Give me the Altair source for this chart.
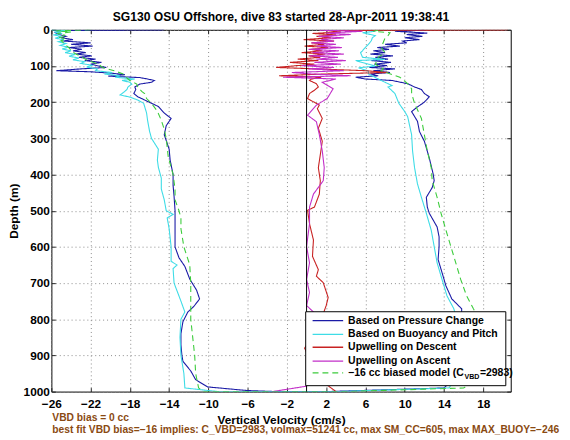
import altair as alt
import pandas as pd

TITLE = "SG130 OSU Offshore, dive 83 started 28-Apr-2011 19:38:41"
X_TITLE = "Vertical Velocity (cm/s)"
Y_TITLE = "Depth (m)"
NOTE_1 = "VBD bias = 0 cc"
NOTE_2 = "best fit VBD bias=\u221216 implies: C_VBD=2983, volmax=51241 cc, max SM_CC=605, max MAX_BUOY=\u2212246"

SERIES = [
    "Based on Pressure Change",
    "Based on Buoyancy and Pitch",
    "Upwelling on Descent",
    "Upwelling on Ascent",
    "\u221216 cc biased model (C_VBD=2983)",
]
# legend label of the model line, split around its subscript
MODEL_LABEL_PARTS = ["\u221216 cc biased model (C", "VBD", "=2983)"]
X_TICKS = [-26, -22, -18, -14, -10, -6, -2, 2, 6, 10, 14, 18]
Y_TICKS = [0, 100, 200, 300, 400, 500, 600, 700, 800, 900, 1000]

# ---- Based on Pressure Change (descent then ascent)
PC_DESC_DEPTH = [0, 2, 4, 8, 13, 18, 22, 27, 31, 36, 40, 45, 49, 54, 58, 63, 67, 72, 76, 81, 85, 90, 95,
                 100, 104, 108, 113, 116, 120, 124, 128, 132, 136, 140, 145, 150, 158, 165, 176, 185, 194,
                 203, 212, 230, 245, 265, 290, 330, 360, 400, 430, 460, 500, 550, 600, 630, 654, 689, 720,
                 744, 765, 780, 807, 840, 871, 900, 916, 943, 967, 987, 997, 1000]
PC_DESC_VEL = [-14.5, -25.5, -25.0, -25.6, -25.2, -24.5, -25.0, -23.8, -24.8, -22.0, -24.0, -21.8, -24.2,
               -22.9, -23.8, -22.5, -23.5, -21.9, -23.2, -21.5, -22.6, -20.9, -22.0, -21.2, -20.4, -23.0,
               -25.5, -22.0, -19.8, -18.5, -20.2, -17.0, -16.2, -15.5, -15.8, -17.0, -17.5, -17.4, -17.6,
               -17.2, -16.5, -15.8, -15.1, -14.5, -13.8, -14.3, -14.5, -14.0, -13.9, -13.6, -13.6, -13.5,
               -13.4, -13.4, -13.4, -13.0, -12.4, -11.9, -11.2, -10.9, -11.5, -12.1, -12.6, -12.8, -12.8,
               -12.7, -12.6, -11.8, -11.3, -10.1, -6.1, -3.0]
PC_ASC_DEPTH = [1000, 990, 950, 900, 850, 800, 780, 771, 744, 708, 671, 635, 599, 572, 545, 507, 490, 463,
                436, 417, 399, 354, 308, 281, 253, 226, 213, 200, 185, 176, 165, 158, 149, 140, 136, 131,
                127, 122, 118, 113, 108, 104, 99, 95, 90, 85, 81, 76, 72, 67, 63, 58, 54, 49, 45, 40, 36,
                31, 27, 22, 18, 13, 9, 4, 1]
PC_ASC_VEL = [2.0, 14.0, 15.5, 16.0, 16.2, 16.0, 15.8, 15.8, 14.8, 14.2, 13.8, 13.4, 13.5, 13.5, 13.3,
              12.5, 12.3, 12.2, 12.8, 13.0, 12.9, 12.5, 12.0, 11.5, 11.3, 10.7, 11.3, 12.0, 12.5, 12.0,
              11.7, 11.0, 10.3, 8.7, 6.0, 5.0, 7.3, 6.5, 8.5, 6.8, 9.0, 6.4, 8.2, 6.9, 8.6, 6.6, 8.3, 7.0,
              8.8, 6.5, 8.0, 6.8, 8.4, 7.2, 9.5, 8.0, 10.2, 9.8, 11.5, 10.0, 11.8, 10.2, 12.3, 9.0, 12.0]

# ---- Based on Buoyancy and Pitch
BP_DESC_DEPTH = [0, 2, 6, 10, 14, 18, 23, 28, 33, 38, 43, 48, 53, 58, 63, 68, 73, 78, 83, 88, 93, 98, 103,
                 108, 113, 118, 122, 127, 131, 136, 140, 145, 150, 158, 165, 172, 180, 186, 194, 203, 212,
                 230, 250, 280, 300, 330, 360, 380, 410, 440, 470, 500, 510, 520, 550, 600, 640, 650, 660,
                 700, 750, 780, 800, 850, 900, 950, 990, 1000]
BP_DESC_VEL = [-26.0, -24.0, -25.7, -24.9, -25.8, -25.0, -25.6, -24.7, -25.3, -24.5, -25.1, -24.3, -24.9,
               -24.0, -24.6, -23.6, -24.2, -23.2, -23.8, -22.6, -23.0, -21.8, -22.4, -21.3, -21.5, -19.8,
               -20.6, -19.0, -19.5, -17.5, -18.8, -18.0, -17.8, -18.2, -18.3, -18.6, -19.0, -18.0, -17.2,
               -16.6, -16.5, -16.3, -16.2, -16.0, -15.8, -15.1, -15.2, -15.1, -14.8, -14.8, -14.5, -14.3,
               -13.6, -14.2, -14.0, -13.8, -13.8, -13.2, -13.6, -13.5, -12.8, -12.4, -12.8, -12.9, -12.8,
               -12.5, -12.4, -9.0]
BP_ASC_DEPTH = [1000, 990, 950, 900, 850, 800, 771, 735, 690, 644, 599, 554, 507, 463, 426, 381, 335, 290,
                240, 226, 203, 176, 158, 154, 140, 122, 114, 105, 100, 95, 85, 82, 76, 63, 58, 54, 40, 30,
                22, 16, 8, 4, 1]
BP_ASC_VEL = [3.0, 14.5, 15.6, 15.8, 15.6, 15.3, 15.0, 14.3, 13.8, 13.3, 13.0, 12.7, 12.2, 11.7, 11.3,
              11.0, 10.8, 10.7, 10.3, 10.0, 9.4, 9.0, 8.3, 8.7, 7.6, 6.3, 6.3, 5.3, 7.0, 6.3, 5.0, 8.0,
              5.7, 5.5, 5.7, 5.8, 6.3, 6.6, 6.7, 7.0, 5.7, 7.0, 6.7]

# ---- Upwelling on Descent
UD_DEPTH = [0, 2, 6, 10, 14, 18, 22, 27, 31, 36, 40, 45, 49, 54, 58, 63, 67, 72, 76, 81, 85, 90, 95, 99,
            104, 108, 113, 118, 122, 127, 131, 136, 140, 149, 158, 167, 176, 190, 208, 218, 245, 272, 308,
            345, 381, 417, 454, 490, 499, 536, 581, 626, 663, 681, 699, 740, 762, 800, 850, 880, 920, 960,
            1000]
UD_VEL = [20.5, 2.0, 3.5, 0.6, 3.0, 1.0, 2.5, -0.3, 2.8, 0.5, 1.8, -0.2, 2.2, 0.4, 1.6, -0.5, 1.9, 0.2,
          1.4, -0.9, 1.2, -1.7, 0.8, -1.0, -3.1, 1.0, 6.0, 8.3, 2.0, -2.8, 1.5, 0.5, 0.3, 1.0, 1.2, 0.8,
          0.3, 0.1, 1.3, 1.1, 1.6, 1.2, 1.6, 1.4, 1.2, 1.4, 1.3, 0.8, 0.1, 0.3, 0.7, 0.6, 1.2, 1.0, 1.7,
          2.2, 2.0, 1.5, 0.5, -0.2, 0.5, 1.0, 3.0]

# ---- Upwelling on Ascent
UA_DEPTH = [1000, 985, 950, 900, 850, 800, 780, 762, 726, 690, 644, 599, 536, 490, 454, 417, 381, 335,
            290, 254, 236, 208, 190, 163, 145, 136, 131, 127, 122, 118, 113, 108, 104, 99, 95, 90, 85, 81,
            76, 72, 67, 63, 58, 54, 49, 45, 40, 36, 31, 27, 22, 18, 13, 9, 4, 1]
UA_VEL = [-3.5, 0.0, 0.5, 0.3, 0.8, 1.0, 0.7, 0.0, 0.3, 0.0, 0.3, 0.0, 0.3, 0.3, 0.7, 1.7, 1.8, 1.6, 1.3,
          1.0, 0.1, 1.0, 2.1, 2.7, 1.6, 3.0, -2.4, 4.5, 0.5, -1.5, 3.8, 0.2, 2.8, -0.5, 3.5, 0.8, 4.0,
          1.0, 3.2, 0.3, 3.8, 0.6, 3.3, 0.2, 3.6, 1.0, 3.0, 0.5, 2.8, 1.5, 3.8, 1.2, 4.5, 2.0, 5.7, 1.3]

# ---- biased model
BM_DESC_DEPTH = [0, 3, 6, 10, 15, 20, 25, 30, 40, 50, 60, 67, 75, 85, 95, 104, 113, 122, 131, 140, 150,
                 158, 170, 176, 190, 203, 225, 250, 275, 300, 350, 400, 440, 470, 500, 520, 550, 600, 650,
                 700, 750, 800, 850, 900, 950, 990, 1000]
BM_DESC_VEL = [-22.0, -25.5, -24.0, -25.4, -24.6, -25.3, -24.5, -25.0, -24.6, -24.2, -23.9, -23.5, -22.9,
               -22.3, -21.2, -20.8, -19.6, -18.7, -18.4, -18.0, -17.3, -17.2, -16.8, -16.5, -16.3, -15.8,
               -15.2, -14.8, -14.5, -14.3, -14.1, -13.6, -13.4, -13.4, -13.0, -12.8, -12.8, -12.5, -11.9,
               -11.8, -11.8, -11.8, -11.6, -11.4, -11.3, -11.0, -10.5]
BM_ASC_DEPTH = [1000, 990, 950, 900, 850, 800, 771, 735, 690, 644, 599, 554, 507, 463, 417, 381, 335, 290,
                245, 203, 176, 163, 149, 135, 131, 113, 108, 95, 76, 63, 49, 22, 16, 8, 4, 0]
BM_ASC_VEL = [4.0, 16.0, 18.5, 18.6, 18.2, 17.6, 17.0, 16.3, 15.7, 15.2, 14.7, 14.2, 13.7, 13.3, 12.8,
              12.7, 12.3, 12.0, 11.7, 11.0, 10.7, 10.7, 10.3, 9.7, 9.5, 7.6, 7.8, 7.0, 7.3, 8.0, 7.6, 8.0,
              8.3, 8.5, 6.8, 7.5]

COLORS = ["#1a1aa6", "#3edce6", "#c82222", "#c22fc8", "#3ccc3c"]
DASHES = [[1, 0], [1, 0], [1, 0], [1, 0], [6, 4]]
FONT = "Liberation Sans"
BROWN = "#8a4a12"

rows = []
def add(name, depths, vels):
    for d, v in zip(depths, vels):
        rows.append({"series": name, "depth": d, "vel": v, "idx": len(rows)})

add(SERIES[0], PC_DESC_DEPTH + PC_ASC_DEPTH, PC_DESC_VEL + PC_ASC_VEL)
add(SERIES[1], BP_DESC_DEPTH + BP_ASC_DEPTH, BP_DESC_VEL + BP_ASC_VEL)
add(SERIES[2], UD_DEPTH, UD_VEL)
add(SERIES[3], UA_DEPTH, UA_VEL)
add(SERIES[4], BM_DESC_DEPTH + BM_ASC_DEPTH, BM_DESC_VEL + BM_ASC_VEL)
df = pd.DataFrame(rows)

xscale = alt.Scale(domain=[-26, 20.8], nice=False, zero=False)
yscale = alt.Scale(domain=[0, 1000], reverse=True, nice=False)

axis_common = dict(
    labelFont=FONT, labelFontWeight="bold", labelFontSize=12, labelColor="black", labelFlush=False,
    titleFont=FONT, titleFontWeight="bold", titleFontSize=12, titleColor="black",
    grid=True, gridColor="#8a8a8a", gridDash=[1, 3], gridWidth=1,
    domain=False, ticks=True, tickSize=4, tickColor="#222", offset=-4, format="d",
)

lines = alt.Chart(df).mark_line(strokeWidth=1.1, clip=True).encode(
    x=alt.X("vel:Q", scale=xscale,
            axis=alt.Axis(values=X_TICKS, title=X_TITLE, orient="bottom", labelPadding=7,
                          titlePadding=5, **axis_common)),
    y=alt.Y("depth:Q", scale=yscale,
            axis=alt.Axis(values=Y_TICKS, title=Y_TITLE, orient="left", labelPadding=2,
                          titlePadding=3, **axis_common)),
    color=alt.Color("series:N", scale=alt.Scale(domain=SERIES, range=COLORS), legend=None),
    strokeDash=alt.StrokeDash("series:N", scale=alt.Scale(domain=SERIES, range=DASHES), legend=None),
    order="idx:Q",
)

zero_df = pd.DataFrame({"vel": [0]})
zero_rule = alt.Chart(zero_df).mark_rule(color="black", strokeWidth=1).encode(
    x=alt.X("vel:Q", scale=xscale,
            axis=alt.Axis(values=X_TICKS, orient="top", labels=False, title=None, grid=False,
                          domain=False, ticks=True, tickSize=4, tickColor="#222", offset=-4)),
)
edge_df = pd.DataFrame({"depth": [0]})
edge = alt.Chart(edge_df).mark_rule(opacity=0).encode(
    y=alt.Y("depth:Q", scale=yscale,
            axis=alt.Axis(values=Y_TICKS, orient="right", labels=False, title=None, grid=False,
                          domain=False, ticks=True, tickSize=4, tickColor="#222", offset=-4)),
)

# ---- legend (box, line samples, labels), placed in the lower right of the plot
LEG_X0, LEG_X1, LEG_Y0, LEG_Y1 = 258, 461, 286, 361
LEG_ROW_Y = [295, 309, 322, 336, 348]
LEG_SYM_X0, LEG_SYM_X1, LEG_TEXT_X = 265, 296, 301
LEG_FONT_SIZE = 10.6

one = pd.DataFrame({"k": [0]})
legend_layers = [
    alt.Chart(one).mark_rect(fill="white", stroke="black", strokeWidth=1).encode(
        x=alt.value(LEG_X0), x2=alt.value(LEG_X1), y=alt.value(LEG_Y0), y2=alt.value(LEG_Y1))
]
for i, name in enumerate(SERIES):
    legend_layers.append(
        alt.Chart(one).mark_rule(color=COLORS[i], strokeDash=DASHES[i], strokeWidth=1.3).encode(
            x=alt.value(LEG_SYM_X0), x2=alt.value(LEG_SYM_X1), y=alt.value(LEG_ROW_Y[i]))
    )
    label_common = dict(align="left", baseline="middle", font=FONT, fontWeight="bold", color="black")
    if i < 4:
        legend_layers.append(
            alt.Chart(pd.DataFrame({"t": [name]})).mark_text(fontSize=LEG_FONT_SIZE, **label_common).encode(
                text="t:N", x=alt.value(LEG_TEXT_X), y=alt.value(LEG_ROW_Y[i]))
        )
    else:
        p0, p1, p2 = MODEL_LABEL_PARTS
        w0 = 117.5  # width of p0 at LEG_FONT_SIZE in Liberation Sans Bold
        w1 = 15.2   # width of p1 at the subscript size
        legend_layers += [
            alt.Chart(pd.DataFrame({"t": [p0]})).mark_text(fontSize=LEG_FONT_SIZE, **label_common).encode(
                text="t:N", x=alt.value(LEG_TEXT_X), y=alt.value(LEG_ROW_Y[i])),
            alt.Chart(pd.DataFrame({"t": [p1]})).mark_text(fontSize=7.2, **label_common).encode(
                text="t:N", x=alt.value(LEG_TEXT_X + w0 + 0.5), y=alt.value(LEG_ROW_Y[i] + 4)),
            alt.Chart(pd.DataFrame({"t": [p2]})).mark_text(fontSize=LEG_FONT_SIZE, **label_common).encode(
                text="t:N", x=alt.value(LEG_TEXT_X + w0 + w1 + 1), y=alt.value(LEG_ROW_Y[i])),
        ]

note1 = alt.Chart(pd.DataFrame({"t": [NOTE_1]})).mark_text(
    align="left", baseline="middle", font=FONT, fontWeight="bold", fontSize=10.4, color=BROWN).encode(
    text="t:N", x=alt.value(1), y=alt.value(394))
note2 = alt.Chart(pd.DataFrame({"t": [NOTE_2]})).mark_text(
    align="left", baseline="middle", font=FONT, fontWeight="bold", fontSize=10.4, color=BROWN).encode(
    text="t:N", x=alt.value(1), y=alt.value(406))

chart = alt.layer(lines, zero_rule, edge, *legend_layers, note1, note2).resolve_axis(
    x="independent", y="independent"
).properties(
    width=466, height=367,
    title=alt.TitleParams(TITLE, font=FONT, fontSize=12.3, fontWeight="bold", anchor="middle",
                          frame="group", offset=1, color="black"),
    autosize=alt.AutoSizeParams(type="none"),
    padding={"left": 44, "top": 19, "right": 52, "bottom": 48},
).configure_view(
    stroke="black", strokeWidth=1
)

chart.save("out.html", embed_options={"renderer": "svg", "actions": False})
